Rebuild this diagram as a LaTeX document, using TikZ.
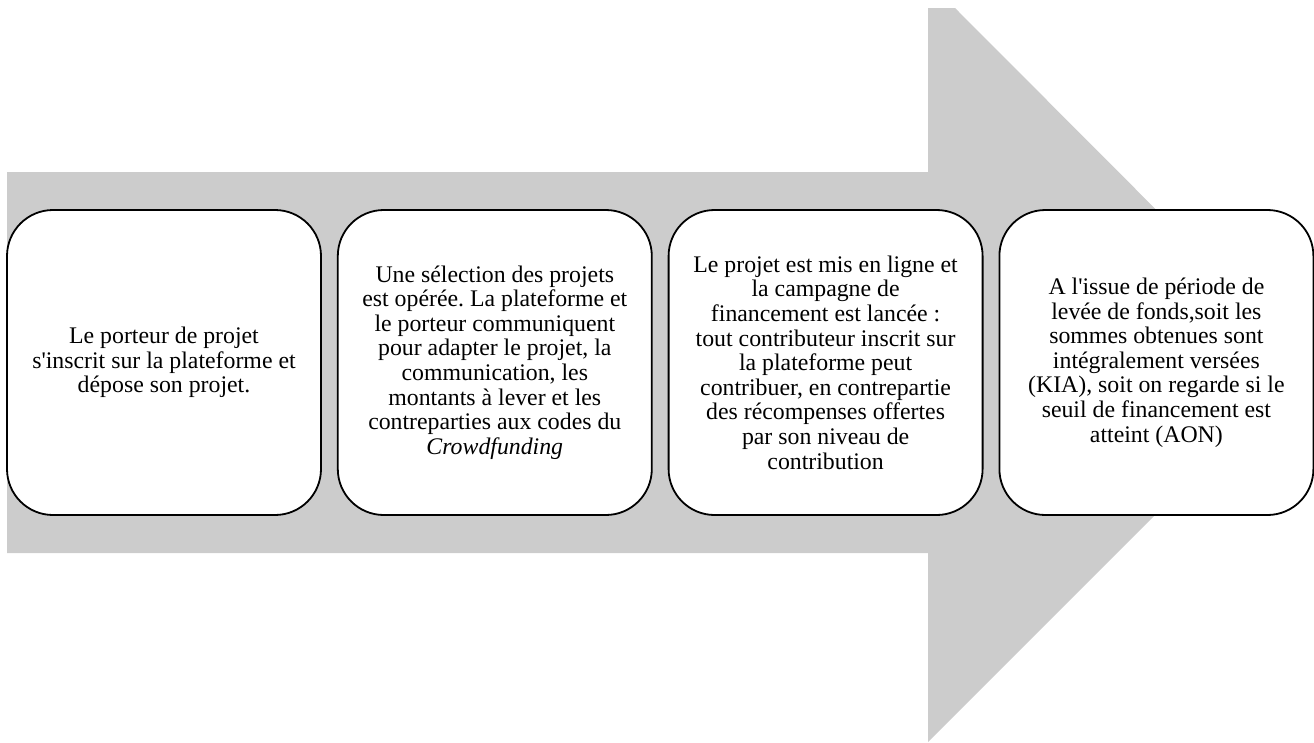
\documentclass[tikz,border=0pt]{standalone}
\usepackage{fontspec}
\setmainfont{Liberation Serif}[Ligatures=TeXOff]
\usepackage{tikz}
\usetikzlibrary{positioning}
\frenchspacing
\definecolor{fleche}{RGB}{204,204,204}
\tikzset{etape/.style={draw, line width=1.8pt, fill=white, rounded corners=46pt,
    minimum width=314pt, minimum height=305pt, align=center, inner sep=0pt,
    font=\fontsize{23.8}{24.6}\selectfont}}

\begin{document}
\begin{tikzpicture}[x=1pt, y=-1pt]
			\useasboundingbox (0, 0) rectangle (1314, 742);
			\fill [fleche] (7, 172)--(928, 172)--(928, 8)--(955, 8)--(1308, 362)--(928, 742)--(928, 553)--(7, 553)--cycle;
			\node [etape] (b1) at (164, 362.5) {Le porteur de projet\\ s'inscrit sur la plateforme et\\ dépose son projet.};
			\node [etape, right=15pt of b1] (b2) {Une sélection des projets\\ est opérée. La plateforme et\\ le porteur communiquent\\ pour adapter le projet, la\\ communication, les\\ montants à lever et les\\ contreparties aux codes du\\ \textit{Crowdfunding}};
			\node [etape, right=15pt of b2] (b3) {Le projet est mis en ligne et\\ la campagne de\\ financement est lancée :\\ tout contributeur inscrit sur\\ la plateforme peut\\ contribuer, en contrepartie\\ des récompenses offertes\\ par son niveau de\\ contribution};
			\node [etape, right=15pt of b3] (b4) {A l'issue de période de\\ levée de fonds,soit les\\ sommes obtenues sont\\ intégralement versées\\ (KIA), soit on regarde si le\\ seuil de financement est\\ atteint (AON)};
		\end{tikzpicture}
\end{document}
